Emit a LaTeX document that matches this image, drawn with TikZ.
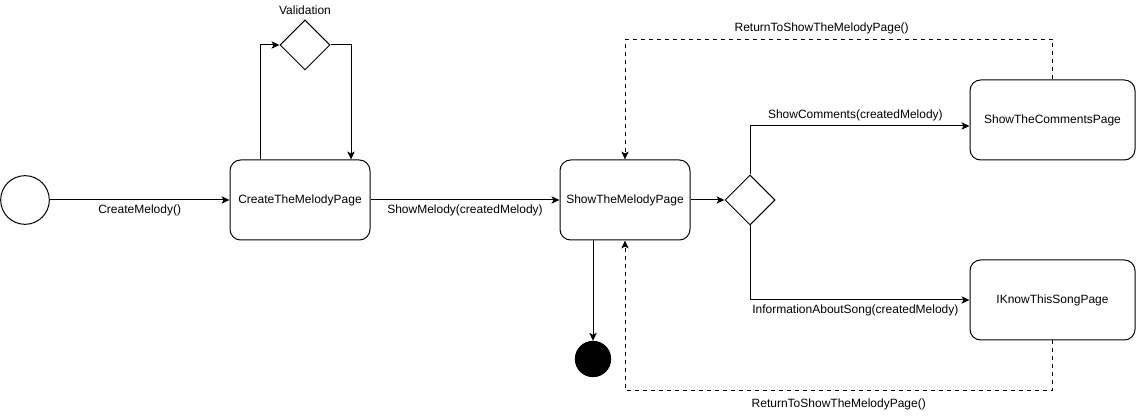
\documentclass[tikz,border=0pt]{standalone}
\usepackage{fontspec}
\setmainfont{Liberation Sans}
\usetikzlibrary{shapes.geometric,arrows.meta}
\begin{document}
\begin{tikzpicture}[x=0.75pt,y=-0.75pt,line width=0.75pt,
  font=\fontsize{9}{11}\selectfont,
  >={Stealth[length=6pt,width=5.5pt,inset=1.5pt]},
  pagebox/.style={draw, rounded corners=8pt, minimum width=97.5pt, minimum height=60pt, inner sep=2pt},
  widebox/.style={pagebox, minimum width=123.75pt},
  choice/.style={draw, diamond, aspect=1, minimum size=37.5pt, inner sep=0pt},
  flowlbl/.style={inner sep=3.5pt}]
\useasboundingbox (0,0) rectangle (1136,416);
\node[draw, circle, minimum size=36.5pt, inner sep=0pt] (start) at (25,200) {};
\node[pagebox, minimum width=105pt] (create) at (300,200) {CreateTheMelodyPage};
\node[choice] (valid) at (305,45) {};
\node[flowlbl] (validlbl) at (305,10) {Validation};
\node[pagebox] (show) at (625,200) {ShowTheMelodyPage};
\node[choice] (branch) at (750,200) {};
\node[widebox] (comments) at (1052.5,120) {ShowTheCommentsPage};
\node[widebox] (iknow) at (1052.5,300) {IKnowThisSongPage};
\node[draw, circle, fill=black, minimum size=26.5pt, inner sep=0pt] (stop) at (593,359) {};
\draw[->] (start) -- node[flowlbl, below] {CreateMelody()} (create);
\draw[->] ([xshift=-30pt]create.north) |- (valid.west);
\draw[->] (valid.east) -| ([xshift=38.25pt]create.north);
\draw[->] (create) -- node[flowlbl, below] {ShowMelody(createdMelody)} (show);
\draw[->] (show) -- (branch);
\draw[->] (branch.north) |- node[flowlbl, above, pos=0.74] {ShowComments(createdMelody)} ([yshift=-4.5pt]comments.west);
\draw[->] (branch.south) |- node[flowlbl, below, pos=0.74] {InformationAboutSong(createdMelody)} (iknow.west);
\draw[->] ([xshift=-24pt]show.south) -- (stop.north);
\draw[->, dashed] (comments.north) -- ++(0,-40) -| node[flowlbl, above, pos=0.27] {ReturnToShowTheMelodyPage()} (show.north);
\draw[->, dashed] (iknow.south) -- ++(0,50) -| node[flowlbl, below, pos=0.25, yshift=-2pt] {ReturnToShowTheMelodyPage()} (show.south);
\end{tikzpicture}
\end{document}
